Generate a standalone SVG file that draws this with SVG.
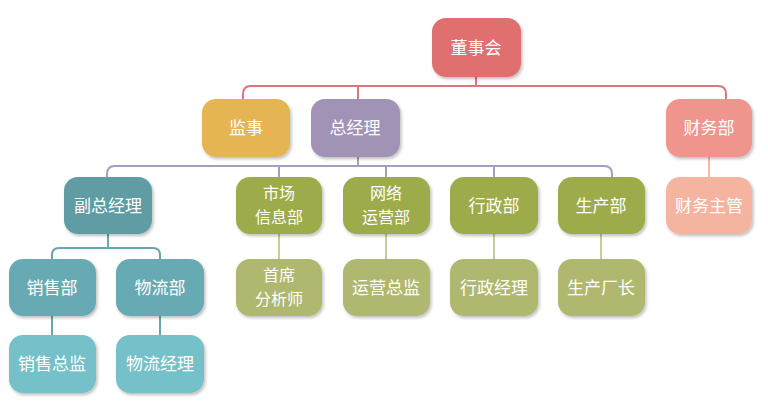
<svg xmlns="http://www.w3.org/2000/svg" width="768" height="403" viewBox="0 0 768 403">
<defs>
<filter id="sh" x="-20%" y="-20%" width="150%" height="150%"><feDropShadow dx="1.5" dy="2" stdDeviation="1.5" flood-color="#000" flood-opacity="0.25"/></filter>
<style>
rect{filter:url(#sh)}
text{font-family:"Noto Sans CJK SC",sans-serif;font-size:17px;fill:#fff;text-anchor:middle}
.t2{font-size:16px}
.c path{fill:none;stroke-width:2}
</style>
</defs>
<rect width="768" height="403" fill="#fff" style="filter:none"/>
<g class="c" id="connectors">
<path d="M476 77V86M243 99V94Q243 86 251 86H718Q726 86 726 94V99M358 86V99" stroke="#d97878"/>
<path d="M358 157V166M107 177V174Q107 166 115 166H604Q612 166 612 174V177M279 166V177M386 166V177M494 166V177" stroke="#a89cc0"/>
<path d="M709 157V177" stroke="#f4b8ae"/>
<path d="M108 234V248M52 259V255Q52 248 59 248H153Q160 248 160 255V259M52 316V335M160 316V335" stroke="#6aa7ad"/>
<path d="M279 234V259M386 234V259M494 234V259M601 234V259" stroke="#c6cc9c"/>
</g>
<g id="n1"><rect x="432" y="18" width="89" height="59" rx="14" fill="#e07070"/><text x="476" y="54">董事会</text></g>
<g id="n2"><rect x="202" y="99" width="88" height="58" rx="14" fill="#e6b552"/><text x="246" y="134">监事</text></g>
<g id="n3"><rect x="311" y="99" width="89" height="58" rx="14" fill="#a193b5"/><text x="355" y="134">总经理</text></g>
<g id="n4"><rect x="666" y="99" width="86" height="58" rx="14" fill="#ef958e"/><text x="709" y="134">财务部</text></g>
<g id="n5"><rect x="64" y="177" width="88" height="57" rx="14" fill="#5e9ca4"/><text x="108" y="212">副总经理</text></g>
<g id="n6"><rect x="236" y="177" width="86" height="57" rx="14" fill="#9dab4c"/><text class="t2" x="279" y="199">市场</text><text class="t2" x="279" y="223">信息部</text></g>
<g id="n7"><rect x="343" y="177" width="87" height="57" rx="14" fill="#9dab4c"/><text class="t2" x="386" y="199">网络</text><text class="t2" x="386" y="223">运营部</text></g>
<g id="n8"><rect x="450" y="177" width="88" height="57" rx="14" fill="#9dab4c"/><text x="494" y="212">行政部</text></g>
<g id="n9"><rect x="558" y="177" width="87" height="57" rx="14" fill="#9dab4c"/><text x="601" y="212">生产部</text></g>
<g id="n10"><rect x="666" y="177" width="86" height="57" rx="14" fill="#f4b4a0"/><text x="709" y="212">财务主管</text></g>
<g id="n11"><rect x="9" y="259" width="87" height="57" rx="14" fill="#68aab4"/><text x="52" y="294">销售部</text></g>
<g id="n12"><rect x="116" y="259" width="88" height="57" rx="14" fill="#68aab4"/><text x="160" y="294">物流部</text></g>
<g id="n13"><rect x="236" y="259" width="86" height="57" rx="14" fill="#b0b76e"/><text class="t2" x="279" y="281">首席</text><text class="t2" x="279" y="305">分析师</text></g>
<g id="n14"><rect x="343" y="259" width="87" height="57" rx="14" fill="#b0b76e"/><text x="386" y="294">运营总监</text></g>
<g id="n15"><rect x="450" y="259" width="88" height="57" rx="14" fill="#b0b76e"/><text x="494" y="294">行政经理</text></g>
<g id="n16"><rect x="558" y="259" width="87" height="57" rx="14" fill="#b0b76e"/><text x="601" y="294">生产厂长</text></g>
<g id="n17"><rect x="9" y="335" width="87" height="58" rx="14" fill="#76c0ca"/><text x="52" y="370">销售总监</text></g>
<g id="n18"><rect x="116" y="335" width="88" height="58" rx="14" fill="#76c0ca"/><text x="160" y="370">物流经理</text></g>
</svg>
